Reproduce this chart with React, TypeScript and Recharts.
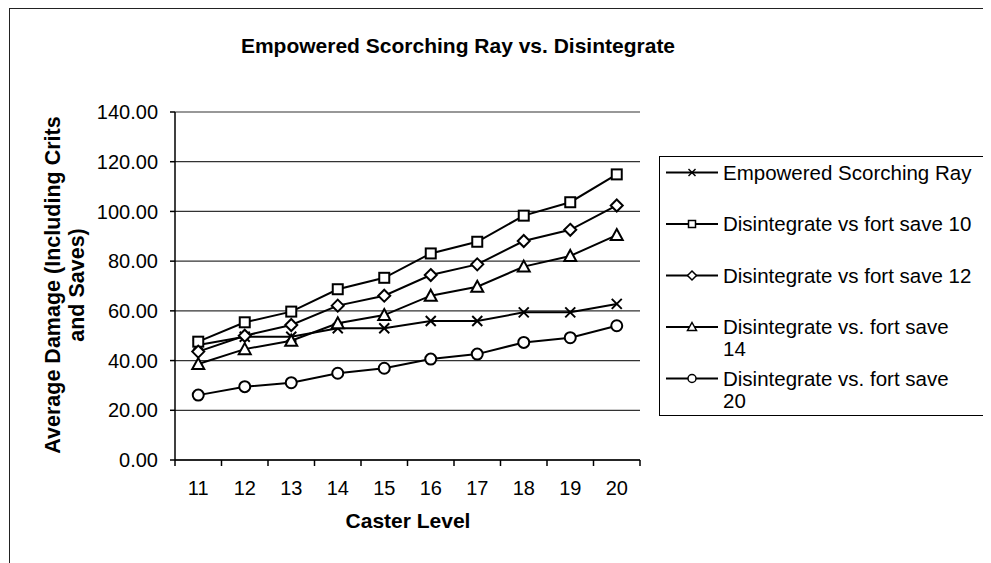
import React from "react"
import { LineChart, Line, XAxis, YAxis, CartesianGrid, Legend } from "recharts"

const levels = ["11", "12", "13", "14", "15", "16", "17", "18", "19", "20"]
const scorchingRay = [46.3, 49.6, 49.6, 53.0, 53.0, 55.9, 55.9, 59.4, 59.4, 62.8]
const fortSave10 = [47.6, 55.4, 59.7, 68.7, 73.3, 83.1, 87.8, 98.3, 103.7, 114.9]
const fortSave12 = [43.6, 50.0, 54.3, 62.1, 66.1, 74.4, 78.7, 88.1, 92.6, 102.4]
const fortSave14 = [38.6, 44.6, 48.0, 55.0, 58.3, 66.1, 69.7, 77.8, 82.1, 90.5]
const fortSave20 = [26.1, 29.5, 31.1, 34.9, 36.9, 40.6, 42.6, 47.3, 49.2, 54.0]
const yTicks = [0, 20, 40, 60, 80, 100, 120, 140]

const series = [
  { key: "esr", name: "Empowered Scorching Ray", shape: "x", values: scorchingRay },
  { key: "d10", name: "Disintegrate vs fort save 10", shape: "square", values: fortSave10 },
  { key: "d12", name: "Disintegrate vs fort save 12", shape: "diamond", values: fortSave12 },
  { key: "d14", name: "Disintegrate vs. fort save 14", shape: "triangle", values: fortSave14 },
  { key: "d20", name: "Disintegrate vs. fort save 20", shape: "circle", values: fortSave20 },
]

const data = levels.map((level, i) => {
  const row: Record<string, any> = { level }
  series.forEach((s) => (row[s.key] = s.values[i]))
  return row
})

const FONT = "'Liberation Sans', Arial, sans-serif"
const W = 983
const H = 555
const PLOT_LEFT = 167
const PLOT_RIGHT = 632
const PLOT_TOP = 104
const PLOT_BOTTOM = 452
const Y_AXIS_W = 110
const X_AXIS_H = 80
const BAND = (PLOT_RIGHT - PLOT_LEFT) / levels.length

function Marker({ cx, cy, shape, r }: { cx: number; cy: number; shape: string; r: number }) {
  const sw = r > 4 ? 2 : 1.5
  if (shape === "square")
    return <rect x={cx - r} y={cy - r} width={r * 2} height={r * 2} fill="#fff" stroke="#000" strokeWidth={sw} />
  if (shape === "diamond")
    return (
      <polygon
        points={`${cx},${cy - r - 1} ${cx + r + 1},${cy} ${cx},${cy + r + 1} ${cx - r - 1},${cy}`}
        fill="#fff"
        stroke="#000"
        strokeWidth={sw}
      />
    )
  if (shape === "triangle")
    return (
      <polygon
        points={`${cx},${cy - r - 1} ${cx + r + 1},${cy + r} ${cx - r - 1},${cy + r}`}
        fill="#fff"
        stroke="#000"
        strokeWidth={sw}
      />
    )
  if (shape === "circle") return <circle cx={cx} cy={cy} r={r + 0.5} fill="#fff" stroke="#000" strokeWidth={sw} />
  return (
    <g stroke="#000" strokeWidth={sw}>
      <line x1={cx - r} y1={cy - r} x2={cx + r} y2={cy + r} />
      <line x1={cx - r} y1={cy + r} x2={cx + r} y2={cy - r} />
    </g>
  )
}

// excel-ish word wrap for the legend labels
function wrap(text: string, max: number) {
  const lines: string[] = []
  let cur = ""
  text.split(" ").forEach((w) => {
    const next = cur ? cur + " " + w : w
    if (next.length > max && cur) {
      lines.push(cur)
      cur = w
    } else cur = next
  })
  if (cur) lines.push(cur)
  return lines
}

function renderLegend(props: any) {
  const payload = [...(props.payload || [])].sort(
    (a: any, b: any) => series.findIndex((s) => s.name === a.value) - series.findIndex((s) => s.name === b.value)
  )
  return (
    <svg width={329} height={260} style={{ display: "block", fontFamily: FONT }}>
      <rect x={0.5} y={0.5} width={328} height={259} fill="#fff" stroke="#000" />
      {payload.map((entry: any, i: number) => {
        const s = series.find((x) => x.name === entry.value)
        const base = 23.5 + i * 51.5
        return (
          <g key={entry.value}>
            <line x1={7} x2={59} y1={base - 7} y2={base - 7} stroke="#000" strokeWidth={2} />
            <Marker cx={33} cy={base - 7} shape={s ? s.shape : "x"} r={3.5} />
            {wrap(entry.value, 28).map((ln, j) => (
              <text key={j} x={64} y={base + j * 22} fontSize={20.5} fill="#000">
                {ln}
              </text>
            ))}
          </g>
        )
      })}
    </svg>
  )
}

function XTick(props: any) {
  const { x, y, payload } = props
  const idx = payload.index ?? props.index
  return (
    <g>
      <line x1={x - BAND / 2} x2={x - BAND / 2} y1={y} y2={y + 6} stroke="#000" strokeWidth={1.5} />
      {idx === levels.length - 1 && (
        <line x1={x + BAND / 2} x2={x + BAND / 2} y1={y} y2={y + 6} stroke="#000" strokeWidth={1.5} />
      )}
      <text x={x} y={y + 35} textAnchor="middle" fontSize={20} fill="#000" fontFamily={FONT}>
        {payload.value}
      </text>
    </g>
  )
}

function YTitle() {
  const cy = 277
  return (
    <g fontFamily={FONT} fontWeight="bold" fontSize={21.5} fill="#000">
      <text x={52} y={cy} textAnchor="middle" transform={`rotate(-90, 52, ${cy})`}>
        Average Damage (Including Crits
      </text>
      <text x={76} y={cy} textAnchor="middle" transform={`rotate(-90, 76, ${cy})`}>
        and Saves)
      </text>
    </g>
  )
}

function XTitle() {
  return (
    <text x={400} y={520} textAnchor="middle" fontFamily={FONT} fontWeight="bold" fontSize={21} fill="#000">
      Caster Level
    </text>
  )
}

export default function App() {
  return (
    <div style={{ position: "relative", width: W, height: H, fontFamily: FONT }}>
      <div
        style={{
          position: "absolute",
          left: 1,
          top: 0,
          width: W - 1,
          height: H,
          borderTop: "1.5px solid #222",
          borderLeft: "1.5px solid #222",
          boxSizing: "border-box",
        }}
      />
      <div
        style={{
          position: "absolute",
          left: 0,
          width: 900,
          top: 27,
          lineHeight: "21px",
          fontSize: 21,
          fontWeight: "bold",
          textAlign: "center",
          color: "#000",
        }}
      >
        Empowered Scorching Ray vs. Disintegrate
      </div>
      <div style={{ position: "absolute", left: 0, top: 0 }}>
        <LineChart
          width={W}
          height={H}
          data={data}
          margin={{
            top: PLOT_TOP,
            right: W - PLOT_RIGHT,
            bottom: H - PLOT_BOTTOM - X_AXIS_H,
            left: PLOT_LEFT - Y_AXIS_W,
          }}
          style={{ fontFamily: FONT }}
        >
          <CartesianGrid vertical={false} stroke="#333" strokeWidth={1.2} />
          <XAxis
            dataKey="level"
            scale="band"
            tickLine={false}
            tickSize={0}
            tickMargin={0}
            axisLine={{ stroke: "#000", strokeWidth: 1.5 }}
            tick={<XTick />}
            height={X_AXIS_H}
            interval={0}
            label={<XTitle />}
          />
          <XAxis
            xAxisId="top"
            orientation="top"
            dataKey="level"
            scale="band"
            tick={false}
            tickLine={false}
            height={0}
            axisLine={{ stroke: "#888", strokeWidth: 1.5 }}
          />
          <YAxis
            domain={[0, 140]}
            ticks={yTicks}
            interval={0}
            tickFormatter={(v: number) => v.toFixed(2)}
            tick={{ fill: "#000", fontSize: 20, fontFamily: FONT }}
            tickSize={5}
            tickMargin={12}
            tickLine={{ stroke: "#000", strokeWidth: 1.5 }}
            axisLine={{ stroke: "#000", strokeWidth: 1.5 }}
            width={Y_AXIS_W}
            label={<YTitle />}
          />
          <YAxis
            yAxisId="right"
            orientation="right"
            domain={[0, 140]}
            tick={false}
            tickLine={false}
            width={0}
            axisLine={{ stroke: "#888", strokeWidth: 1.5 }}
          />
          <Legend
            layout="horizontal"
            align="center"
            verticalAlign="middle"
            content={renderLegend}
            wrapperStyle={{ position: "absolute", left: 651, top: 148, width: 329, height: 260 }}
          />
          {series.map((s) => (
            <Line
              key={s.key}
              dataKey={s.key}
              name={s.name}
              stroke="#000"
              strokeWidth={2}
              isAnimationActive={false}
              dot={(p: any) => <Marker key={`${s.key}-${p.index}`} cx={p.cx} cy={p.cy} shape={s.shape} r={5} />}
              activeDot={false}
            />
          ))}
        </LineChart>
      </div>
    </div>
  )
}
